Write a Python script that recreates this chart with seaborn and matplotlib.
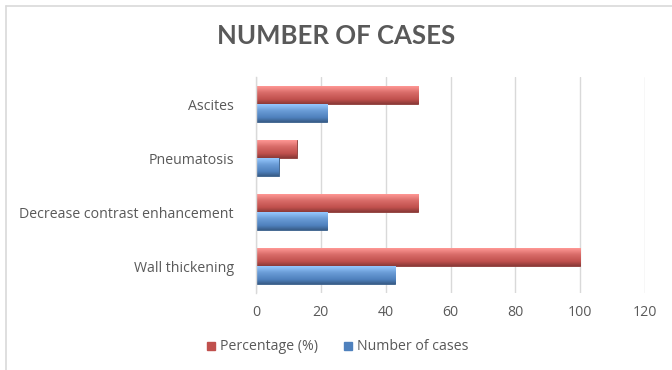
import numpy as np
import pandas as pd
import matplotlib
matplotlib.use("Agg")
import matplotlib.pyplot as plt
import matplotlib.colors as mcolors
from matplotlib.lines import Line2D
import seaborn as sns

categories = ["Ascites", "Pneumatosis", "Decrease contrast enhancement", "Wall thickening"]
percentage = [50, 12.5, 50, 100]
num_cases = [22, 7, 22, 43]
series_names = ["Percentage (%)", "Number of cases"]
x_ticks = [0, 20, 40, 60, 80, 100, 120]

df = pd.DataFrame({
    "category": categories * 2,
    "value": percentage + num_cases,
    "series": [series_names[0]] * len(categories) + [series_names[1]] * len(categories),
})

red = "#C0504D"
blue = "#4F81BD"
text_col = "#595959"

sns.set_theme(style="white")
plt.rcParams["font.family"] = ["Open Sans", "DejaVu Sans"]

fig = plt.figure(figsize=(6.72, 3.70), dpi=100)
ax = fig.add_axes([256 / 672, 1 - 293 / 370, (645 - 256) / 672, (293 - 77) / 370])

sns.barplot(data=df, y="category", x="value", hue="series", order=categories,
            hue_order=series_names, palette=[red, blue], orient="h",
            width=0.66, ax=ax, legend=False, saturation=1)

ax.set_xlim(0, 120)
ax.set_ylim(3.5, -0.5)
ax.set_xticks(x_ticks)
ax.set_xticklabels([str(t) for t in x_ticks])
ax.set_xlabel("")
ax.set_ylabel("")
ax.xaxis.grid(True, color="#D9D9D9", linewidth=1)
ax.set_axisbelow(True)
for s in ["top", "right", "bottom"]:
    ax.spines[s].set_visible(False)
ax.spines["left"].set_color("#D9D9D9")
ax.spines["left"].set_linewidth(1)
ax.tick_params(axis="both", length=0, colors=text_col, labelsize=10.2)
ax.tick_params(axis="y", pad=16)
ax.tick_params(axis="x", pad=9)

# bevelled shading on each bar
for p in list(ax.patches):
    x0, y0 = p.get_x(), p.get_y()
    w, h = p.get_width(), p.get_height()
    if w <= 0:
        continue
    base = np.array(mcolors.to_rgb(p.get_facecolor()))
    t = np.linspace(0, 1, 64)
    light = np.clip(base + 0.28, 0, 1)
    dark = base * 0.72
    prof = np.where(t < 0.35, 1 - t / 0.35 * 0.6, np.where(t < 0.75, 0.4 - (t - 0.35) / 0.4 * 0.4, 0))
    prof2 = np.where(t > 0.75, (t - 0.75) / 0.25, 0)
    cols = base[None, :] * (1 - prof[:, None]) + light[None, :] * prof[:, None]
    cols = cols * (1 - prof2[:, None]) + dark[None, :] * prof2[:, None]
    img = cols[:, None, :]
    im = ax.imshow(img, extent=[x0, x0 + w, y0 + h, y0], aspect="auto",
                   interpolation="bilinear", zorder=p.get_zorder() + 0.1)
    im.set_clip_path(p)
    p.set_edgecolor(tuple(dark))
    p.set_linewidth(0.6)
ax.set_xlim(0, 120)
ax.set_ylim(3.5, -0.5)

fig.text(0.5, 1 - 36 / 370, "NUMBER OF CASES", ha="center", va="center",
         fontsize=18.5, fontweight="bold", color=text_col, family=["Lato", "DejaVu Sans"])

handles = [Line2D([], [], marker="s", linestyle="none", markersize=6,
                  markerfacecolor=c, markeredgecolor=c) for c in [red, blue]]
fig.legend(handles, series_names, loc="center", bbox_to_anchor=(0.5, 1 - 347 / 370),
           ncol=2, frameon=False, fontsize=10.2, labelcolor=text_col,
           handletextpad=0.15, columnspacing=1.6, handlelength=1.0)

# outer chart frame
fig.add_artist(Line2D([6 / 672, 6 / 672], [0, 1 - 6 / 370], color="#D9D9D9", lw=1.2,
                      transform=fig.transFigure))
fig.add_artist(Line2D([6 / 672, 1], [1 - 6 / 370, 1 - 6 / 370], color="#D9D9D9", lw=1.2,
                      transform=fig.transFigure))

fig.savefig("out.png", dpi=100, facecolor="white")
